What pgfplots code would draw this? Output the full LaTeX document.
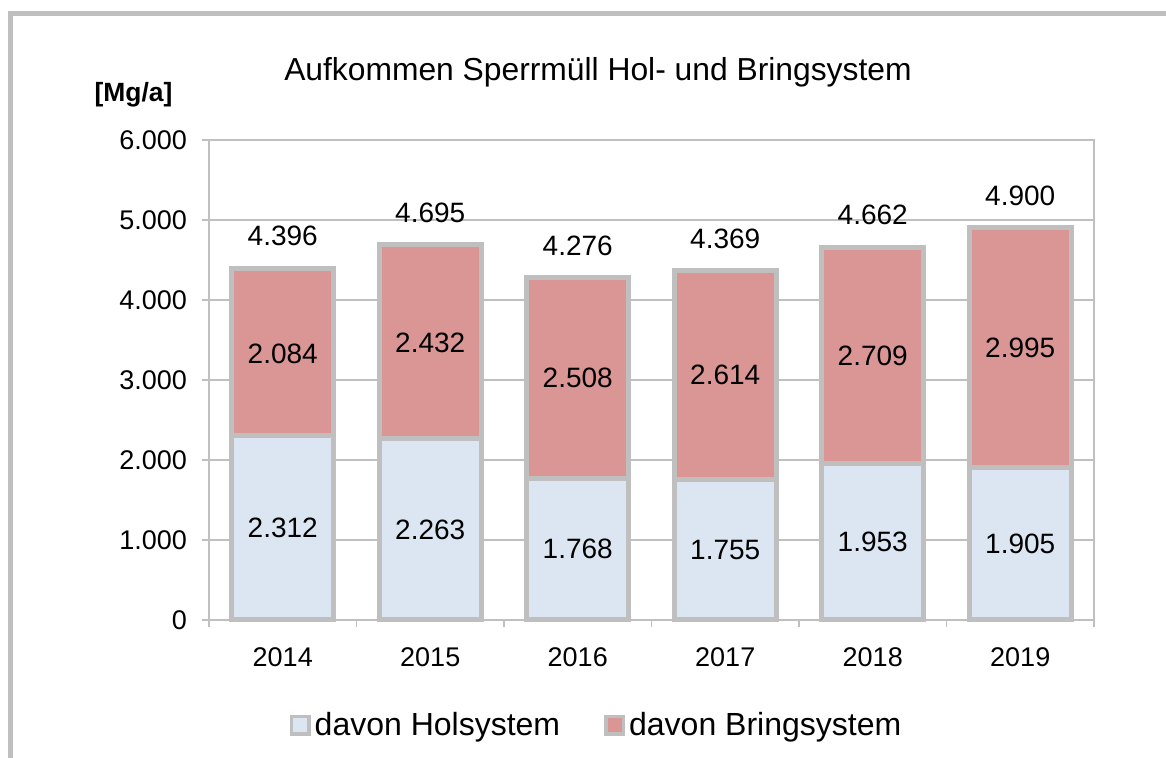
\documentclass[border=0pt]{standalone}
\usepackage{fontspec}
\setmainfont{Liberation Sans}
\usepackage{pgfplots}
\pgfplotsset{compat=1.18}
\definecolor{holblue}{HTML}{DCE6F2}
\definecolor{bringred}{HTML}{D99694}
\definecolor{bargray}{HTML}{BFBFBF}
\definecolor{gridgray}{HTML}{C0C0C0}
\begin{document}
\begin{tikzpicture}
\useasboundingbox (0,0) rectangle (583pt,379pt);
\draw[bargray, line width=2.5pt] (5pt,0pt) -- (5pt,372pt) -- (583pt,372pt);
\pgfplotsset{
  common/.style={
    scale only axis, width=442.5pt, height=240pt,
    at={(104.5pt,69pt)}, anchor=south west,
    xmin=-0.5, xmax=5.5, ymin=0, ymax=6000,
  }
}
\begin{axis}[common, clip=false,
  ybar stacked, bar width=0.69,
  axis line style={draw=gridgray, line width=0.9pt},
  ytick={0,1000,...,6000},
  ymajorgrids, grid style={draw=gridgray, line width=0.8pt},
  scaled y ticks=false,
  /pgf/number format/.cd, 1000 sep={.}, assume math mode=true, /pgfplots/.cd,
  tick align=outside, xtick pos=bottom, ytick pos=left,
  major tick length=3.5pt,
  tick style={draw=gridgray, line width=0.8pt},
  xtick={-0.5,0.5,1.5,2.5,3.5,4.5,5.5}, xticklabels={},
  extra x ticks={0,1,2,3,4,5},
  extra x tick labels={2014,2015,2016,2017,2018,2019},
  extra x tick style={major tick length=0pt},
  tick label style={font=\fontsize{13.5}{16}\selectfont, text=black},
  yticklabel style={xshift=-4pt},
  xticklabel style={yshift=-10.5pt},
  legend columns=2,
  legend style={draw=none, fill=none, font=\fontsize{16}{18}\selectfont,
    at={(0.439,-0.2188)}, anchor=center,
    /tikz/every even column/.append style={column sep=20pt}},
  legend image code/.code={\draw[#1, line width=1.7pt] (0pt,-4.4pt) rectangle (8.8pt,4.4pt);},
]
\addplot[fill=holblue, draw=bargray, line width=2.5pt] coordinates {(0,2312) (1,2263) (2,1768) (3,1755) (4,1953) (5,1905)};
\addplot[fill=bringred, draw=bargray, line width=2.5pt] coordinates {(0,2084) (1,2432) (2,2508) (3,2614) (4,2709) (5,2995)};
\legend{davon Holsystem, davon Bringsystem}
\node[font=\fontsize{15.9}{19}\selectfont, anchor=center] at (axis description cs:0.4395,1.1417) {Aufkommen Sperrmüll Hol- und Bringsystem};
\node[font=\bfseries\fontsize{13.2}{15}\selectfont] at (axis description cs:-0.0853,1.094) {[Mg/a]};
\end{axis}
\begin{axis}[common, hide axis,
  nodes near coords={\pgfmathprintnumber[1000 sep={.}, assume math mode=true]{\pgfplotspointmeta}},
  point meta=explicit,
  every node near coord/.append style={anchor=center, font=\fontsize{14}{17}\selectfont, text=black},
]
\addplot[draw=none, mark=none] coordinates {
  (0,1156)[2312] (1,1131.5)[2263] (2,884)[1768] (3,877.5)[1755] (4,976.5)[1953] (5,952.5)[1905]
  (0,3330)[2084] (1,3460)[2432] (2,3022)[2508] (3,3062)[2614] (4,3307.5)[2709] (5,3402.5)[2995]
  (0,4796)[4396] (1,5095)[4695] (2,4676)[4276] (3,4769)[4369] (4,5062)[4662] (5,5300)[4900]
};
\end{axis}
\end{tikzpicture}
\end{document}
